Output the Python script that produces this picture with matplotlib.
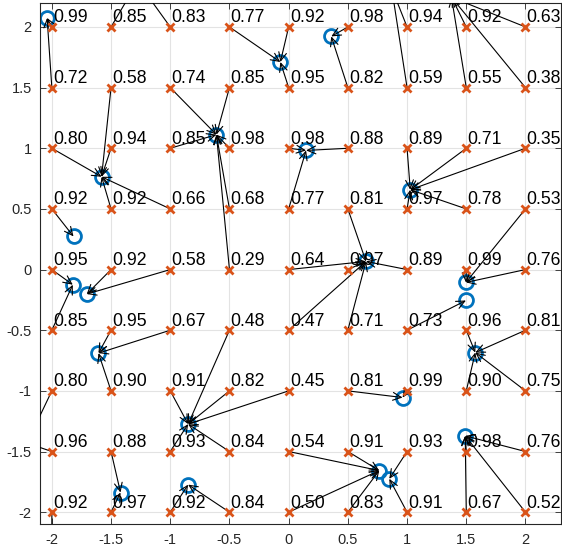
import numpy as np
import matplotlib.pyplot as plt
from matplotlib.patches import FancyArrowPatch
from matplotlib.ticker import FuncFormatter

plt.rcParams['font.family'] = ['Liberation Sans', 'DejaVu Sans']
plt.rcParams['axes.unicode_minus'] = False

# grid of sample points
gridX = [-2, -1.5, -1, -0.5, 0, 0.5, 1, 1.5, 2]
gridY = [2, 1.5, 1, 0.5, 0, -0.5, -1, -1.5, -2]

# value shown next to every grid point (rows go from y=2 down to y=-2)
valores = [
    [0.99, 0.85, 0.83, 0.77, 0.92, 0.98, 0.94, 0.92, 0.63],
    [0.72, 0.58, 0.74, 0.85, 0.95, 0.82, 0.59, 0.55, 0.38],
    [0.80, 0.94, 0.85, 0.98, 0.98, 0.88, 0.89, 0.71, 0.35],
    [0.92, 0.92, 0.66, 0.68, 0.77, 0.81, 0.97, 0.78, 0.53],
    [0.95, 0.92, 0.58, 0.29, 0.64, 0.97, 0.89, 0.99, 0.76],
    [0.85, 0.95, 0.67, 0.48, 0.47, 0.71, 0.73, 0.96, 0.81],
    [0.80, 0.90, 0.91, 0.82, 0.45, 0.81, 0.99, 0.90, 0.75],
    [0.96, 0.88, 0.93, 0.84, 0.54, 0.91, 0.93, 0.98, 0.76],
    [0.92, 0.97, 0.92, 0.84, 0.50, 0.83, 0.91, 0.67, 0.52],
]

# attractor positions (last ones lie outside the visible area)
alvoX = [-2.04, -0.07, 0.36, -0.61, -1.58, 0.147, 1.027, -1.817, -1.823,
         -1.705, -1.606, 0.653, 1.497, 1.497, 1.576, 0.962, -0.849, 1.491,
         0.765, 0.85, -1.42, -0.849, -1.275, 0.87, 1.375, -2.21, -2.0]
alvoY = [2.074, 1.711, 1.922, 1.112, 0.765, 0.982, 0.658, 0.273, -0.125,
         -0.202, -0.689, 0.067, -0.106, -0.255, -0.684, -1.055, -1.274, -1.371,
         -1.657, -1.725, -1.838, -1.773, 2.373, 2.32, 2.245, -1.43, -2.3]

# index of the attractor reached from each grid point
destino = [
    [0, 22, 22, 1, 1, 2, 23, 24, 24],
    [0, 4, 3, 3, 1, 2, 23, 24, 24],
    [4, 4, 3, 3, 5, 5, 6, 6, 6],
    [7, 4, 4, 3, 5, 11, 6, 6, 12],
    [8, 9, 9, 3, 11, 11, 11, 12, 12],
    [8, 10, 10, 16, 11, 11, 13, 14, 14],
    [25, 10, 16, 16, 16, 15, 15, 14, 14],
    [25, 20, 16, 16, 18, 18, 19, 17, 17],
    [26, 20, 21, 21, 18, 18, 19, 17, 17],
]

azul = '#0072BD'
laranja = '#D95319'
limX = (-2.1, 2.3)
limY = (-2.1, 2.2)

fig = plt.figure(figsize=(5.62, 5.54), dpi=100)
ax = fig.add_axes([40 / 562, 29.7 / 554, 521 / 562, 521.6 / 554])

malhaX, malhaY = np.meshgrid(gridX, gridY)

# markers whose centre falls outside the limits are not drawn at all
ax_ = np.array(alvoX)
ay_ = np.array(alvoY)
dentro = (ax_ >= limX[0]) & (ax_ <= limX[1]) & (ay_ >= limY[0]) & (ay_ <= limY[1])
ax.plot(ax_[dentro], ay_[dentro], 'o', color=azul, markersize=10,
        markeredgewidth=2, markerfacecolor='none', zorder=2)

for i in range(len(gridY)):
    for j in range(len(gridX)):
        k = destino[i][j]
        seta = FancyArrowPatch((gridX[j], gridY[i]), (alvoX[k], alvoY[k]),
                               arrowstyle='->,head_length=0.6,head_width=0.28',
                               mutation_scale=10, shrinkA=0, shrinkB=0,
                               color='black', linewidth=0.8, zorder=3)
        ax.add_patch(seta)

ax.plot(malhaX.ravel(), malhaY.ravel(), 'x', color=laranja, markersize=6,
        markeredgewidth=2, zorder=4)

for i in range(len(gridY)):
    for j in range(len(gridX)):
        ax.text(gridX[j] + 0.01, gridY[i] + 0.038, f'{valores[i][j]:.2f}',
                fontsize=12.7, color='black', va='baseline', ha='left', zorder=5)

ax.set_xlim(*limX)
ax.set_ylim(*limY)
ax.set_xticks(gridX)
ax.set_yticks(gridY)
fmt = FuncFormatter(lambda v, p: f'{v:g}')
ax.xaxis.set_major_formatter(fmt)
ax.yaxis.set_major_formatter(fmt)
ax.tick_params(direction='in', length=4, width=0.6, colors='#262626',
               labelsize=10.5, top=True, right=True, pad=6)
ax.grid(True, color='#e3e3e3', linewidth=0.8)
ax.set_axisbelow(True)
for s in ax.spines.values():
    s.set_color('#262626')
    s.set_linewidth(0.8)

fig.savefig('out.png', dpi=100)
